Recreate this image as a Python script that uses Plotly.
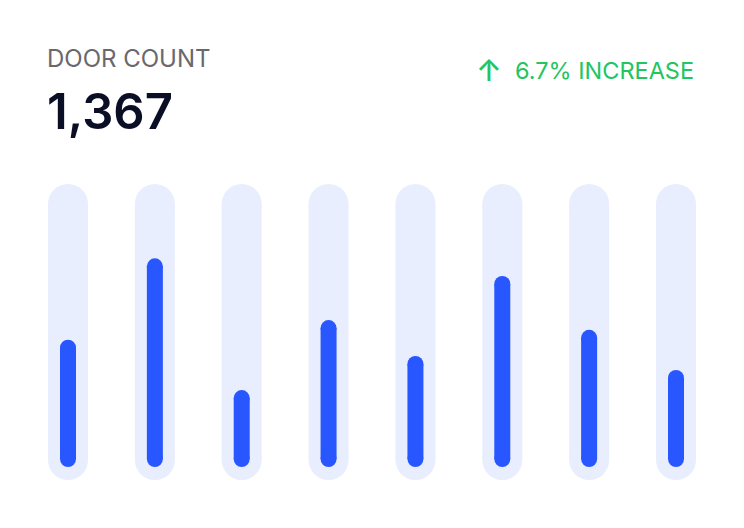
import plotly.graph_objects as go

# ---- data ----
title_label = "DOOR COUNT"
total_value = "1,367"
change_arrow = "↑"
change_label = "6.7% INCREASE"
categories = [0, 1, 2, 3, 4, 5, 6, 7]
fill_values = [47, 77, 28.4, 54.2, 41, 70.5, 50.6, 35.8]   # % of track
track_max = 100

# ---- layout constants (pixels, in screenshot coordinates) ----
W, H = 744, 528
OFF = 8                          # page offset of the figure in the screenshot
PL, PR, PT, PB = 48, 696, 184, 480   # plot area in screenshot px
ML, MT = PL - OFF, PT - OFF
MR, MB = W - PR + OFF, H - PB + OFF
PLOT_W, PLOT_H = PR - PL, PB - PT
PX_PER_UNIT = 2.71
TRACK_W = 40
BAR_W = 16
BAR_PAD = 13

y_lo = -BAR_PAD / PX_PER_UNIT
y_hi = y_lo + PLOT_H / PX_PER_UNIT
tr_r = (TRACK_W / 2) / PX_PER_UNIT
bar_r = (BAR_W / 2) / PX_PER_UNIT

n = len(categories)
step_px = (PLOT_W - TRACK_W) / (n - 1)
x_pad = (TRACK_W / 2) / step_px

track_x, track_y, bar_x, bar_y = [], [], [], []
for c, v in zip(categories, fill_values):
    track_x += [c, c, None]
    track_y += [y_lo + tr_r, y_hi - tr_r, None]
    bar_x += [c, c, None]
    bar_y += [bar_r, v - bar_r, None]

fig = go.Figure()
fig.add_trace(go.Scatter(
    x=track_x, y=track_y, mode="lines+markers",
    line=dict(color="#E8EEFD", width=TRACK_W),
    marker=dict(color="#E8EEFD", size=TRACK_W, line=dict(width=0)),
    hoverinfo="skip", cliponaxis=False, showlegend=False))
fig.add_trace(go.Scatter(
    x=bar_x, y=bar_y, mode="lines+markers",
    line=dict(color="#2856FF", width=BAR_W),
    marker=dict(color="#2856FF", size=BAR_W, line=dict(width=0)),
    hoverinfo="skip", cliponaxis=False, showlegend=False))

def py(px):
    return (PB - px) / PLOT_H

def pxx(px):
    return (px - PL) / PLOT_W

fig.add_annotation(text=title_label, xref="paper", yref="paper",
                   x=pxx(45), y=py(59), xanchor="left", yanchor="middle",
                   showarrow=False,
                   font=dict(family="Inter", size=24, color="#68686D"))
fig.add_annotation(text=total_value, xref="paper", yref="paper",
                   x=pxx(45), y=py(111.5), xanchor="left", yanchor="middle",
                   showarrow=False,
                   font=dict(family="Inter", size=49, weight=600, color="#0A0F26"))
fig.add_annotation(text=change_arrow, xref="paper", yref="paper",
                   x=pxx(489), y=py(70), xanchor="center", yanchor="middle",
                   showarrow=False,
                   font=dict(family="Inter", size=30, weight=500, color="#22C55E"))
fig.add_annotation(text=change_label, xref="paper", yref="paper",
                   x=pxx(696), y=py(71), xanchor="right", yanchor="middle",
                   showarrow=False,
                   font=dict(family="Inter", size=23.5, color="#22C55E"))

fig.update_layout(
    width=W, height=H,
    margin=dict(l=ML, r=MR, t=MT, b=MB),
    paper_bgcolor="white", plot_bgcolor="white",
    xaxis=dict(range=[-x_pad, n - 1 + x_pad], visible=False, fixedrange=True),
    yaxis=dict(range=[y_lo, y_hi], visible=False, fixedrange=True),
)
fig.write_html("out.html")
